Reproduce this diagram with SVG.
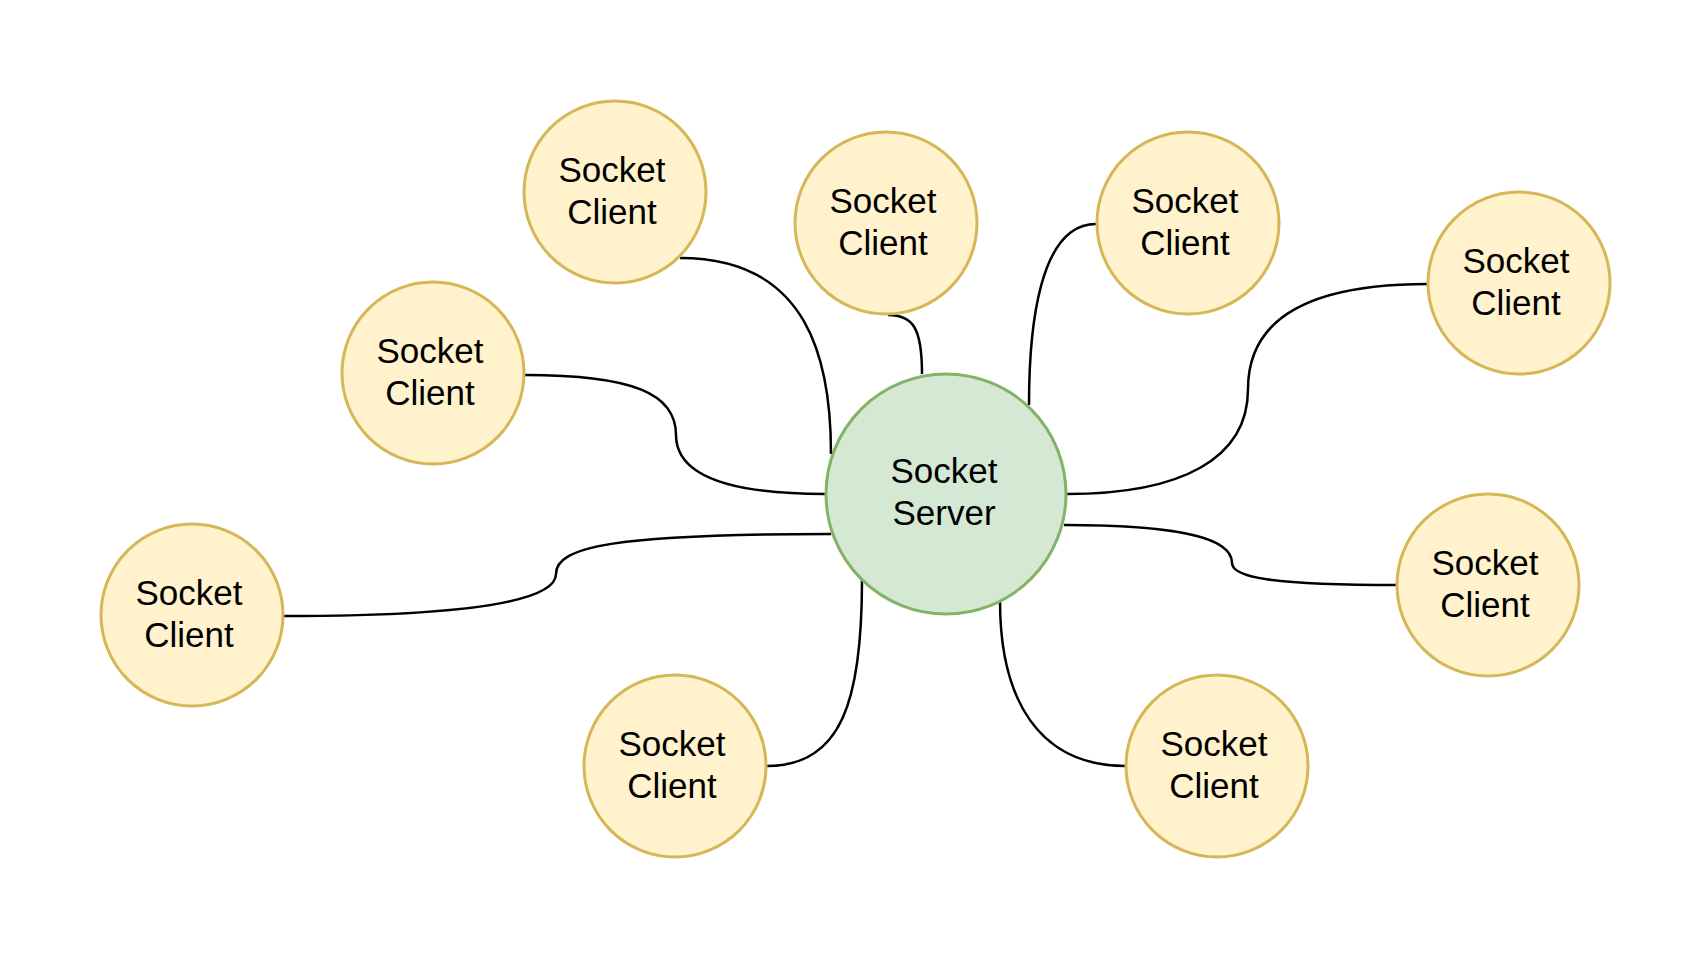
<svg xmlns="http://www.w3.org/2000/svg" width="1706" height="956" viewBox="0 0 1706 956">
<style>
.c{fill:#fff2cc;stroke:#d6b656;stroke-width:3}
.s{fill:#d5e8d4;stroke:#82b366;stroke-width:3}
.e{fill:none;stroke:#000;stroke-width:2.5}
text{font-family:"Liberation Sans",Arial,sans-serif;font-size:35px;text-anchor:middle;fill:#000}
</style>
<rect width="1706" height="956" fill="#fff"/>
<g id="connectors">
<path class="e" d="M680,258 C809,258 831,361 831,454"/>
<path class="e" d="M888,315 C913,315 922,328 922,374"/>
<path class="e" d="M1096,224 C1039,224 1029,328 1029,405"/>
<path class="e" d="M1428,284 C1312,284 1248,317 1248,389 C1248,459 1181,494 1067,494"/>
<path class="e" d="M525,375 C634,375 676,394 676,435 C676,481 744,494 825,494"/>
<path class="e" d="M284,616 C481,616 556,599 556,574 C556,547 612,534 831,534"/>
<path class="e" d="M767,766 C842,766 862,700 862,580"/>
<path class="e" d="M1126,766 C1039,766 1000,700 1000,601"/>
<path class="e" d="M1398,585 C1269,585 1232,577 1232,563 C1232,541 1192,525 1064,525"/>
</g>
<g id="server"><circle class="s" cx="946" cy="494" r="120"/><text x="944" y="483">Socket</text><text x="944" y="525">Server</text></g>
<g id="c1"><circle class="c" cx="615" cy="192" r="91"/><text x="612" y="182">Socket</text><text x="612" y="224">Client</text></g>
<g id="c2"><circle class="c" cx="886" cy="223" r="91"/><text x="883" y="213">Socket</text><text x="883" y="255">Client</text></g>
<g id="c3"><circle class="c" cx="1188" cy="223" r="91"/><text x="1185" y="213">Socket</text><text x="1185" y="255">Client</text></g>
<g id="c4"><circle class="c" cx="1519" cy="283" r="91"/><text x="1516" y="273">Socket</text><text x="1516" y="315">Client</text></g>
<g id="c5"><circle class="c" cx="433" cy="373" r="91"/><text x="430" y="363">Socket</text><text x="430" y="405">Client</text></g>
<g id="c6"><circle class="c" cx="192" cy="615" r="91"/><text x="189" y="605">Socket</text><text x="189" y="647">Client</text></g>
<g id="c7"><circle class="c" cx="675" cy="766" r="91"/><text x="672" y="756">Socket</text><text x="672" y="798">Client</text></g>
<g id="c8"><circle class="c" cx="1217" cy="766" r="91"/><text x="1214" y="756">Socket</text><text x="1214" y="798">Client</text></g>
<g id="c9"><circle class="c" cx="1488" cy="585" r="91"/><text x="1485" y="575">Socket</text><text x="1485" y="617">Client</text></g>
</svg>
